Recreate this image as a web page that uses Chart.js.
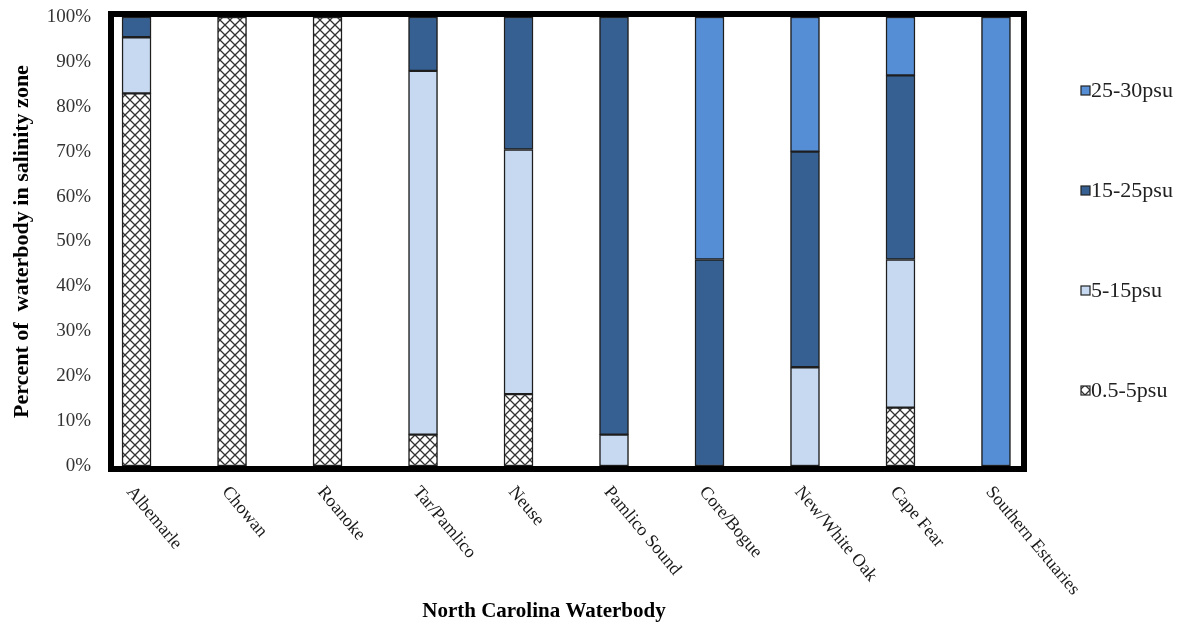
<!DOCTYPE html>
<html>
<head>
<meta charset="utf-8">
<script src="https://cdn.jsdelivr.net/npm/chart.js@4.4.0/dist/chart.umd.min.js"></script>
<style>
  html, body { margin: 0; padding: 0; background: #fff; }
  #wrap { width: 1185px; height: 626px; }
</style>
</head>
<body>
<div id="wrap"><canvas id="salinity" width="1185" height="626"></canvas></div>
<script>
const categories = ["Albemarle", "Chowan", "Roanoke", "Tar/Pamlico", "Neuse",
  "Pamlico Sound", "Core/Bogue", "New/White Oak", "Cape Fear", "Southern Estuaries"];
const zoneLabels = ["0.5-5psu", "5-15psu", "15-25psu", "25-30psu"];
const zone05to5 = [83, 100, 100, 7, 16, 0, 0, 0, 13, 0];
const zone5to15 = [12.5, 0, 0, 81, 54.5, 7, 0, 22, 33, 0];
const zone15to25 = [4.5, 0, 0, 12, 29.5, 93, 46, 48, 41, 0];
const zone25to30 = [0, 0, 0, 0, 0, 0, 54, 30, 13, 100];
const yTicks = [0, 10, 20, 30, 40, 50, 60, 70, 80, 90, 100];

const SERIF = "'Liberation Serif', 'Times New Roman', serif";

// cross hatch used for the 0.5-5psu zone
function makeHatch() {
  const c = document.createElement("canvas");
  c.width = 10;
  c.height = 10;
  const g = c.getContext("2d");
  g.fillStyle = "#fff";
  g.fillRect(0, 0, 10, 10);
  g.strokeStyle = "#333";
  g.lineWidth = 1.3;
  g.beginPath();
  g.moveTo(-1, -1); g.lineTo(11, 11);
  g.moveTo(11, -1); g.lineTo(-1, 11);
  g.stroke();
  return g.createPattern(c, "repeat");
}

const hatch = makeHatch();
const fills = [hatch, "#c6d9f1", "#376092", "#558ed5"];
const series = [zone05to5, zone5to15, zone15to25, zone25to30];

function toPoints(values) {
  return values.map((v, i) => ({ x: i, y: v === 0 ? null : v }));
}

const framePlugin = {
  id: "frame",
  afterDatasetsDraw(chart) {
    const { ctx, chartArea: a } = chart;
    ctx.save();
    ctx.strokeStyle = "#000";
    ctx.lineWidth = 6;
    ctx.strokeRect(a.left - 3, a.top - 3, a.right - a.left + 6, a.bottom - a.top + 6);
    ctx.restore();
  },
  afterDraw(chart) {
    const { ctx, chartArea: a } = chart;
    const xs = chart.scales.x;
    ctx.save();
    // slanted category names
    ctx.fillStyle = "#1a1a1a";
    ctx.font = "18px " + SERIF;
    ctx.textAlign = "left";
    ctx.textBaseline = "middle";
    categories.forEach((name, i) => {
      ctx.save();
      ctx.translate(xs.getPixelForValue(i) - 7, a.bottom + 23);
      ctx.rotate((50 * Math.PI) / 180);
      ctx.fillText(name, 0, 0);
      ctx.restore();
    });
    // x axis title
    ctx.fillStyle = "#000";
    ctx.font = "bold 21px " + SERIF;
    ctx.textAlign = "center";
    ctx.fillText("North Carolina Waterbody", 544, 612);
    // legend, top zone first
    ctx.font = "22px " + SERIF;
    ctx.textAlign = "left";
    const ds = chart.data.datasets;
    for (let k = ds.length - 1; k >= 0; k--) {
      const y = 90 + (ds.length - 1 - k) * 100;
      ctx.fillStyle = ds[k].backgroundColor;
      ctx.fillRect(1081, y - 4, 9, 9);
      ctx.strokeStyle = "#222";
      ctx.lineWidth = 1.2;
      ctx.strokeRect(1081, y - 4, 9, 9);
      ctx.fillStyle = "#222";
      ctx.fillText(ds[k].label, 1091, y + 1);
    }
    ctx.restore();
  },
};

new Chart(document.getElementById("salinity"), {
  type: "bar",
  data: {
    datasets: series.map((vals, k) => ({
      label: zoneLabels[k],
      data: toPoints(vals),
      backgroundColor: fills[k],
      borderColor: "#1e1e1e",
      borderWidth: 1.5,
      borderSkipped: false,
      barThickness: 29,
    })),
  },
  options: {
    responsive: false,
    animation: false,
    layout: {
      padding: { top: 17, bottom: 160, left: 4, right: 164 },
    },
    plugins: {
      legend: { display: false },
      tooltip: { enabled: false },
    },
    scales: {
      x: {
        type: "linear",
        display: false,
        offset: false,
        stacked: true,
        min: -0.236,
        max: 9.262,
      },
      y: {
        stacked: true,
        min: 0,
        max: 100,
        afterBuildTicks: (scale) => {
          scale.ticks = yTicks.map((v) => ({ value: v }));
        },
        afterFit: (scale) => {
          scale.width = 110;
        },
        grid: { display: false, drawTicks: true, tickLength: 20 },
        border: { display: false },
        ticks: {
          padding: 3,
          color: "#333",
          font: { family: SERIF, size: 19 },
          callback: (value) => value + "%",
        },
        title: {
          display: true,
          text: "Percent of  waterbody in salinity zone",
          color: "#000",
          font: { family: SERIF, size: 22, weight: "bold" },
          padding: { top: 5, bottom: 10 },
        },
      },
    },
  },
  plugins: [framePlugin],
});
</script>
</body>
</html>
